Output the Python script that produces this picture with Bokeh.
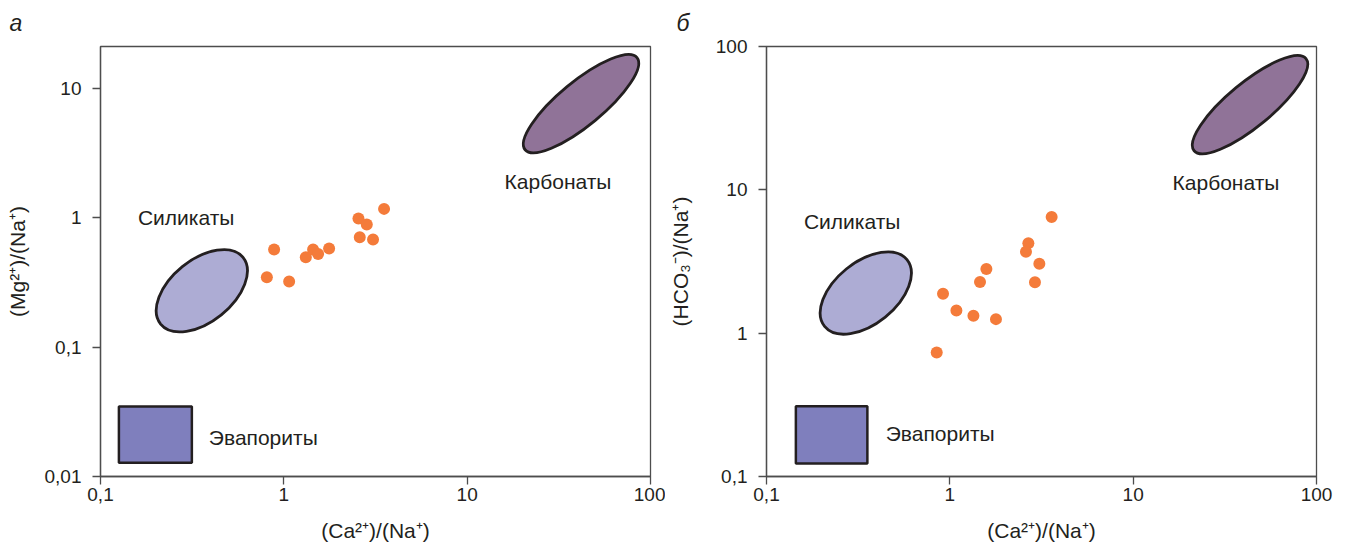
from bokeh.plotting import figure
from bokeh.layouts import row
from bokeh.models import FixedTicker, Range1d, Title
from bokeh.core.properties import value
from bokeh.embed import file_html
from bokeh.resources import INLINE
import math

# ---------------- data ----------------
x_ticks = [0.1, 1, 10, 100]
x_tick_labels = ["0,1", "1", "10", "100"]
ya_ticks = [0.01, 0.1, 1, 10]
ya_tick_labels = ["0,01", "0,1", "1", "10"]
yb_ticks = [0.1, 1, 10, 100]
yb_tick_labels = ["0,1", "1", "10", "100"]

# panel a: Ca/Na vs Mg/Na
ca_na_a = [0.885, 0.808, 1.069, 1.318, 1.444, 1.538, 1.766, 2.553, 2.834, 3.521, 2.595, 3.066]
mg_na_a = [0.569, 0.347, 0.322, 0.496, 0.569, 0.526, 0.579, 0.988, 0.888, 1.172, 0.708, 0.680]

# panel b: Ca/Na vs HCO3/Na
ca_na_b = [3.592, 2.681, 2.602, 3.078, 2.913, 1.583, 1.461, 0.918, 1.086, 1.345, 1.785, 0.848]
hco3_na_b = [6.475, 4.240, 3.702, 3.052, 2.262, 2.803, 2.273, 1.883, 1.441, 1.321, 1.253, 0.733]

# end-member fields (centres in data units)
region_names = ["Силикаты", "Карбонаты", "Эвапориты"]
sil_center_a = (0.357, 0.273)
carb_center_a = (41.8, 7.63)
evap_box_a = (0.126, 0.315, 0.0128, 0.0347)   # left, right, bottom, top
sil_center_b = (0.348, 1.905)
carb_center_b = (43.4, 39.3)
evap_box_b = (0.1446, 0.355, 0.123, 0.309)

label_pos_a = [(0.16, 1.0), (16.0, 1.92), (0.39, 0.0199)]
label_pos_b = [(0.16, 5.98), (16.4, 11.2), (0.447, 0.2)]

# ---------------- styling ----------------
FONT = "Liberation Sans"
AX_COL = "#4d4d4d"
TXT_COL = "#231f20"
SIL_FILL = "#adacd4"
CARB_FILL = "#907398"
EVAP_FILL = "#7f7fbd"
EDGE = "#231f20"
PT_COL = "#f47b3a"


def style(p, xt, xl, yt, yl, xlabel, ylabel, y_als):
    p.xaxis.ticker = FixedTicker(ticks=xt)
    p.yaxis.ticker = FixedTicker(ticks=yt)
    p.xaxis.major_label_overrides = {t: l for t, l in zip(xt, xl)}
    p.yaxis.major_label_overrides = {t: l for t, l in zip(yt, yl)}
    p.xgrid.visible = False
    p.ygrid.visible = False
    p.outline_line_color = AX_COL
    p.outline_line_width = 1.3
    for ax in (p.xaxis[0], p.yaxis[0]):
        ax.axis_line_color = AX_COL
        ax.axis_line_width = 1.3
        ax.major_tick_line_color = AX_COL
        ax.major_tick_line_width = 1.3
        ax.major_tick_out = 8
        ax.major_tick_in = 0
        ax.minor_tick_line_color = None
        ax.major_label_text_font = FONT
        ax.major_label_text_font_size = "19px"
        ax.major_label_text_color = TXT_COL
        ax.axis_label_text_font = FONT
        ax.axis_label_text_font_size = "21px"
        ax.axis_label_text_font_style = "normal"
        ax.axis_label_text_color = TXT_COL
    p.xaxis.major_label_standoff = 3
    p.yaxis.major_label_standoff = 11
    p.xaxis.axis_label = xlabel
    p.yaxis.axis_label = ylabel
    p.xaxis.axis_label_standoff = 15
    p.yaxis.axis_label_standoff = y_als


def panel(letter, yr, yt, yl, ylabel, xs, ys, sil_c, carb_c, evap_b, lab_pos,
          bl, br, title_x, y_als):
    p = figure(x_axis_type="log", y_axis_type="log",
               x_range=Range1d(0.1, 100), y_range=Range1d(*yr),
               frame_width=550, frame_height=430,
               min_border_left=bl, min_border_right=br,
               min_border_top=46, min_border_bottom=63,
               output_backend="svg", toolbar_location=None)
    p.title = Title(text=letter, text_font=FONT, text_font_style="italic",
                    text_font_size="23px", text_color=TXT_COL, align="left",
                    vertical_align="top",
                    offset=-(bl - title_x), standoff=18)
    style(p, x_ticks, x_tick_labels, yt, yl, "(Ca²⁺)/(Na⁺)", ylabel, y_als)

    # evaporites field
    l, r, b, t = evap_b
    p.quad(left=[l], right=[r], bottom=[b], top=[t], fill_color=EVAP_FILL,
           line_color=EDGE, line_width=2.5)
    # silicates field
    p.ellipse(x=[sil_c[0]], y=[sil_c[1]], width=106, height=62,
              width_units="screen", height_units="screen",
              angle=math.radians(39), fill_color=SIL_FILL,
              line_color=EDGE, line_width=2.8)
    # carbonates field
    p.ellipse(x=[carb_c[0]], y=[carb_c[1]], width=145, height=44,
              width_units="screen", height_units="screen",
              angle=math.radians(39.5), fill_color=CARB_FILL,
              line_color=EDGE, line_width=2.8)
    # samples
    p.scatter(x=xs, y=ys, size=12, fill_color=PT_COL, line_color=None)
    # field labels
    p.text(x=[q[0] for q in lab_pos], y=[q[1] for q in lab_pos], text=region_names,
           text_font=value(FONT), text_font_size="21px", text_color=TXT_COL,
           text_align="left", text_baseline="middle")
    return p


pa = panel("а", (0.01, 21.1), ya_ticks, ya_tick_labels, "(Mg²⁺)/(Na⁺)",
           ca_na_a, mg_na_a, sil_center_a, carb_center_a, evap_box_a, label_pos_a,
           100, 15, 9, 13)
pb = panel("б", (0.1, 100), yb_ticks, yb_tick_labels, "(HCO₃⁻)/(Na⁺)",
           ca_na_b, hco3_na_b, sil_center_b, carb_center_b, evap_box_b, label_pos_b,
           101, 20, 11, 21)

layout = row(pa, pb)
open("out.html", "w").write(file_html(layout, INLINE))
